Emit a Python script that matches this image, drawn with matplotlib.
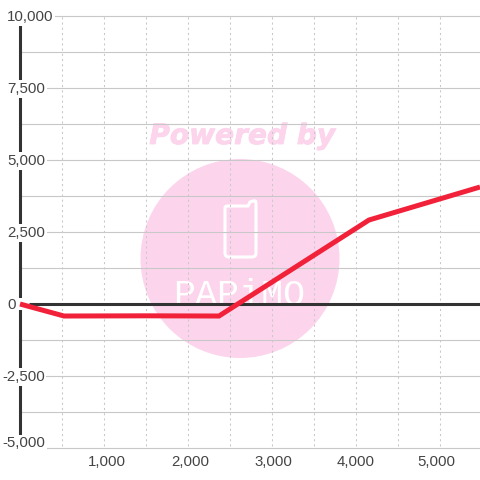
import matplotlib
matplotlib.use('Agg')
from matplotlib import pyplot as plt
from matplotlib.patches import Circle, PathPatch, Rectangle
from matplotlib.path import Path
import matplotlib.patheffects as pe

xValues = [0, 524, 1500, 2369, 4155, 5476]
yValues = [0, -417, -410, -417, 2917, 4062]

xGrid = [500, 1000, 1500, 2000, 2500, 3000, 3500, 4000, 4500, 5000]
yGrid = [10000, 8750, 7500, 6250, 5000, 3750, 2500, 1250, 0, -1250, -2500, -3750, -5000]

xTicks = [1000, 2000, 3000, 4000, 5000]
xLabels = ['1,000', '2,000', '3,000', '4,000', '5,000']
xNudge = [3, 2, 1, 0, -4]

yTicks = [10000, 7500, 5000, 2500, 0, -2500, -5000]
yLabels = ['10,000', '7,500', '5,000', '2,500', '0', '-2,500', '-5,000']

pink = '#fcd5ec'
gridColor = '#c8c8c8'
dark = '#333333'
red = '#f2213a'
textColor = '#444444'

plt.rcParams['font.family'] = ['Liberation Sans', 'DejaVu Sans']

fig = plt.figure(figsize=(4.8, 4.8), dpi=100, facecolor='white')

# watermark goes underneath, in pixel coordinates
back = fig.add_axes([0, 0, 1, 1], zorder=0)
back.set_xlim(0, 480)
back.set_ylim(480, 0)
back.axis('off')
back.add_patch(Circle((240, 258.5), 99.5, color=pink, lw=0))
phone = Path([(227, 206), (225, 206), (225, 208), (225, 253), (225, 257), (229, 257),
              (252, 257), (256, 257), (256, 253), (256, 203), (256, 200), (253, 201),
              (250, 202), (248, 206), (227, 206)],
             [Path.MOVETO, Path.CURVE3, Path.CURVE3, Path.LINETO, Path.CURVE3, Path.CURVE3,
              Path.LINETO, Path.CURVE3, Path.CURVE3, Path.LINETO, Path.CURVE3, Path.CURVE3,
              Path.LINETO, Path.LINETO, Path.LINETO])
back.add_patch(PathPatch(phone, fc='none', ec='white', lw=2.2))
back.text(239.5, 305, 'PAPiMO', color='white', fontsize=26.5, va='baseline', ha='center',
          family='Liberation Mono')
back.text(242, 144, 'Powered by', color=pink, fontsize=20.2, ha='center', va='baseline',
          family='DejaVu Sans', weight='bold', style='oblique',
          path_effects=[pe.withStroke(linewidth=0.6, foreground=pink)])

ax = fig.add_axes([0, 0, 1, 1], zorder=1)
ax.patch.set_alpha(0)
ax.set_xlim(-238.1, 5476.2)
ax.set_ylim(-6111, 10556)
ax.axis('off')

for g in yGrid:
    if g != 0:
        ax.plot([0, 5476], [g, g], color=gridColor, lw=0.8, zorder=1, solid_capstyle='butt')
for g in xGrid:
    ax.plot([g, g], [-4930, 10000], color=gridColor, lw=0.75, ls=(0, (2, 3)), zorder=1)

ax.plot([0, 0], [-5000, 10000], color=dark, lw=2.2, zorder=2, solid_capstyle='butt')
ax.plot([107, 5476], [0, 0], color=dark, lw=2.2, zorder=2, solid_capstyle='butt')

# the zero label has a wider box than its text
ax.add_patch(Rectangle((-180, -210), 287, 420, fc='white', ec='none', zorder=3))

for t, lab in zip(yTicks, yLabels):
    left = 2 if t < 0 else 7
    y = t + 200 if t == -5000 else t
    ax.annotate(lab, xy=(-238.1, y), xycoords='data', xytext=(left, -1), textcoords='offset pixels',
                fontsize=10.8, color=textColor, ha='left', va='center', zorder=4,
                bbox=dict(fc='white', ec='none', pad=1.2))

for t, lab, n in zip(xTicks, xLabels, xNudge):
    ax.annotate(lab, xy=(t, -5000), xycoords='data', xytext=(n, -14), textcoords='offset pixels',
                fontsize=10.8, color=textColor, ha='center', va='center', zorder=4)

ax.plot(xValues, yValues, color=red, lw=3.6, zorder=5, solid_joinstyle='miter', solid_capstyle='butt')

fig.savefig('out.png', dpi=100)
